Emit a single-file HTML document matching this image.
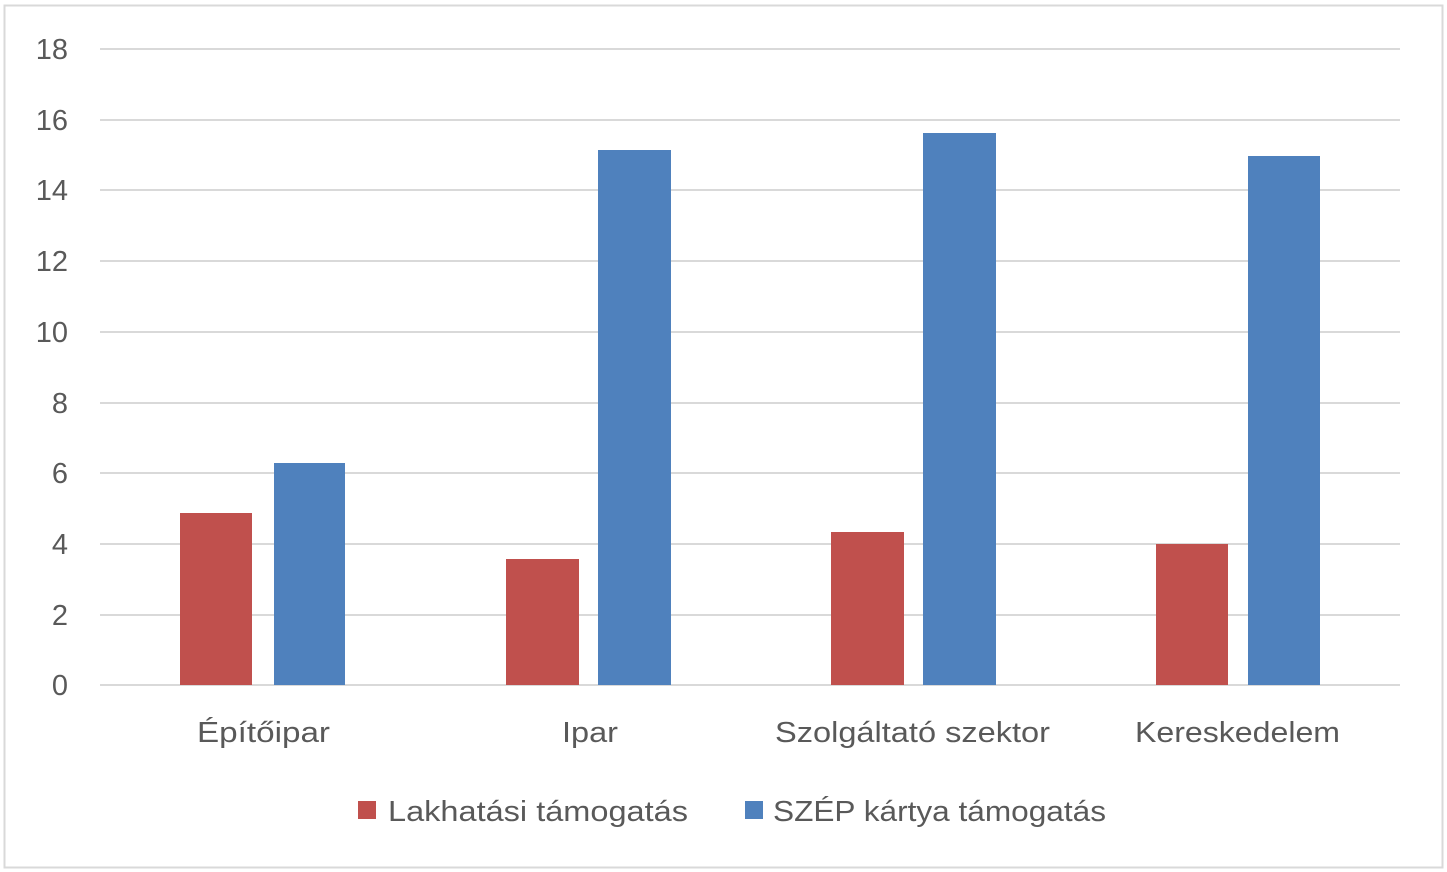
<!DOCTYPE html>
<html><head><meta charset="utf-8"><style>
html,body{margin:0;padding:0;background:#fff;}
svg{display:block;}
text{font-family:"Liberation Sans",sans-serif;fill:#595959;font-size:29px;}
</style></head><body>
<svg width="1447" height="872" viewBox="0 0 1447 872" xmlns="http://www.w3.org/2000/svg">
<rect x="0" y="0" width="1447" height="872" fill="#fff"/>
<rect x="4.5" y="5.5" width="1438" height="862" fill="none" stroke="#d9d9d9" stroke-width="2"/>
<g stroke="#d9d9d9" stroke-width="2">
<line x1="100" x2="1400" y1="49" y2="49"/>
<line x1="100" x2="1400" y1="120" y2="120"/>
<line x1="100" x2="1400" y1="190" y2="190"/>
<line x1="100" x2="1400" y1="261" y2="261"/>
<line x1="100" x2="1400" y1="332" y2="332"/>
<line x1="100" x2="1400" y1="403" y2="403"/>
<line x1="100" x2="1400" y1="473" y2="473"/>
<line x1="100" x2="1400" y1="544" y2="544"/>
<line x1="100" x2="1400" y1="615" y2="615"/>
<line x1="100" x2="1400" y1="685" y2="685"/>
</g>
<g text-anchor="end">
<text x="68" y="59">18</text>
<text x="68" y="130">16</text>
<text x="68" y="200">14</text>
<text x="68" y="271">12</text>
<text x="68" y="342">10</text>
<text x="68" y="413">8</text>
<text x="68" y="483">6</text>
<text x="68" y="554">4</text>
<text x="68" y="625">2</text>
<text x="68" y="695">0</text>
</g>
<g fill="#C0504D">
<rect x="180" y="513" width="72" height="172"/>
<rect x="506" y="559" width="73" height="126"/>
<rect x="831" y="532" width="73" height="153"/>
<rect x="1156" y="544" width="72" height="141"/>
</g>
<g fill="#4F81BD">
<rect x="274" y="463" width="71" height="222"/>
<rect x="598" y="150" width="73" height="535"/>
<rect x="923" y="133" width="73" height="552"/>
<rect x="1248" y="156" width="72" height="529"/>
</g>
<text x="197" y="742" textLength="133" lengthAdjust="spacingAndGlyphs">Építőipar</text>
<text x="562" y="742" textLength="56" lengthAdjust="spacingAndGlyphs">Ipar</text>
<text x="775" y="742" textLength="275" lengthAdjust="spacingAndGlyphs">Szolgáltató szektor</text>
<text x="1135" y="742" textLength="205" lengthAdjust="spacingAndGlyphs">Kereskedelem</text>
<rect x="358" y="801" width="18" height="18" fill="#C0504D"/>
<text x="388" y="821" textLength="300" lengthAdjust="spacingAndGlyphs">Lakhatási támogatás</text>
<rect x="745" y="801" width="18" height="18" fill="#4F81BD"/>
<text x="773" y="821" textLength="333" lengthAdjust="spacingAndGlyphs">SZÉP kártya támogatás</text>
</svg>
</body></html>
